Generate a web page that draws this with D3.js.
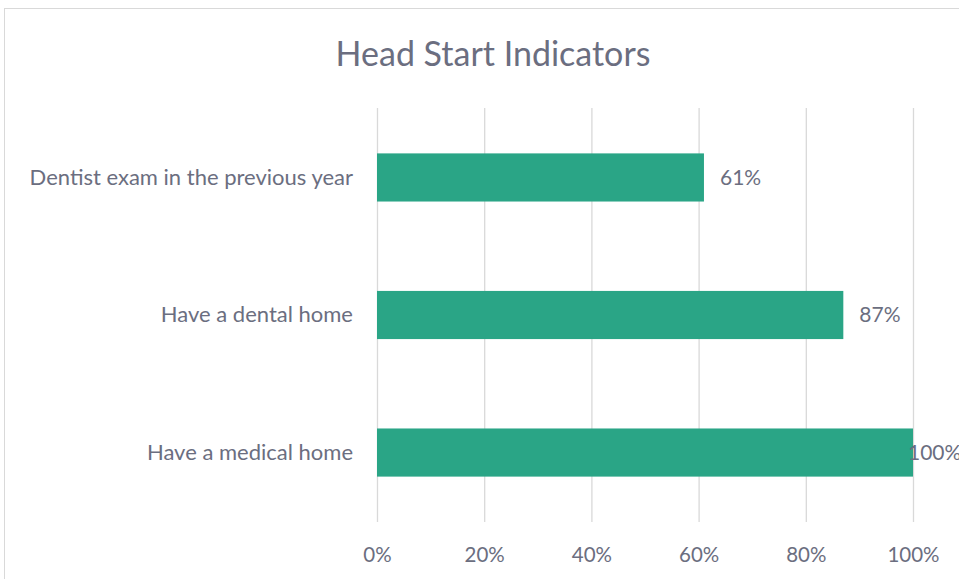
<!DOCTYPE html>
<html>
<head>
<meta charset="utf-8">
<script src="https://cdn.jsdelivr.net/npm/d3@7"></script>
<style>
  body { margin: 0; background: #fff; }
  svg { display: block; font-family: Lato, "Open Sans", sans-serif; }
</style>
</head>
<body>
<div id="chart"></div>
<script>
// chart values
const categories = ["Dentist exam in the previous year", "Have a dental home", "Have a medical home"];
const values = [0.61, 0.87, 1.0];
const tickValues = [0, 0.2, 0.4, 0.6, 0.8, 1.0];

const W = 959, H = 579;
const margin = {top: 108, right: 46, bottom: 57, left: 377};
const width = W - margin.left - margin.right;
const height = H - margin.top - margin.bottom;

const textColor = "#6b6e80";
const barColor = "#2aa586";
const fontFam = "Lato, 'Open Sans', sans-serif";

const svg = d3.select("#chart").append("svg")
  .attr("width", W)
  .attr("height", H);

// outer chart border (runs off the right/bottom edge)
svg.append("rect")
  .attr("x", 4.5).attr("y", 8.5)
  .attr("width", 1000).attr("height", 1000)
  .attr("fill", "none")
  .attr("stroke", "#d9d9d9");

// title
svg.append("text")
  .attr("x", 493).attr("y", 66)
  .attr("text-anchor", "middle")
  .attr("fill", textColor)
  .style("font-size", "34px")
  .text("Head Start Indicators");

const g = svg.append("g")
  .attr("transform", `translate(${margin.left},${margin.top})`);

const x = d3.scaleLinear().domain([0, 1]).range([0, width]);
const y = d3.scaleBand().domain(categories).range([0, height]).paddingInner(0.65).paddingOuter(0.33);

// vertical gridlines
g.append("g")
  .call(d3.axisBottom(x).tickValues(tickValues).tickSize(height).tickFormat(""))
  .call(s => s.select(".domain").remove())
  .call(s => s.selectAll("line").attr("stroke", "#d9d9d9").attr("stroke-width", 1.3));

// x tick labels
g.append("g")
  .attr("transform", `translate(0,${height})`)
  .call(d3.axisBottom(x).tickValues(tickValues).tickSize(0).tickPadding(25).tickFormat(d3.format(".0%")))
  .call(s => s.select(".domain").remove())
  .call(s => s.selectAll("text").attr("fill", textColor).style("font-size", "20.5px").style("font-family", fontFam));

// bars
g.selectAll("rect.bar")
  .data(categories)
  .enter()
  .append("rect")
  .attr("class", "bar")
  .attr("x", x(0))
  .attr("y", d => y(d))
  .attr("width", (d, i) => x(values[i]) - x(0))
  .attr("height", y.bandwidth())
  .attr("fill", barColor);

// category labels
g.append("g")
  .call(d3.axisLeft(y).tickSize(0).tickPadding(24))
  .call(s => s.select(".domain").remove())
  .call(s => s.selectAll("text").attr("fill", textColor).style("font-size", "22px").style("font-family", fontFam));

// value labels, kept inside the plot like the original (100% runs to the edge there too)
g.selectAll("text.val")
  .data(categories)
  .enter()
  .append("text")
  .attr("class", "val")
  .attr("x", (d, i) => Math.min(x(values[i]) + 16, width - 5))
  .attr("y", d => y(d) + y.bandwidth() / 2)
  .attr("dy", "0.35em")
  .attr("fill", textColor)
  .style("font-size", "21px")
  .text((d, i) => d3.format(".0%")(values[i]));
</script>
</body>
</html>
